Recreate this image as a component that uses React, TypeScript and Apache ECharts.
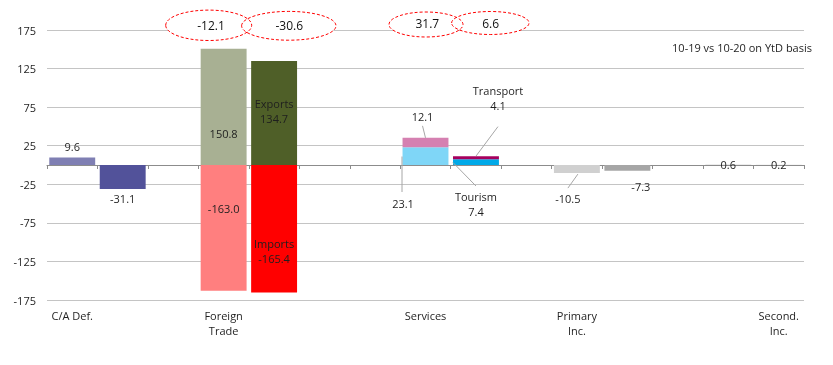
import React, { useEffect, useRef } from "react";
import * as echarts from "echarts";

// ---- data ----
const categories = [
  "C/A Def.", "", "", "Foreign\nTrade", "", "", "", "Services", "", "",
  "Primary\nInc.", "", "", "", "Second.\nInc.",
];
const baseValues: (number | null)[] = [
  9.6, -31.1, null, 150.8, 134.7, null, null, 23.1, 7.4, null, -10.5, -7.3, null, 0.6, 0.2,
];
const topValues: (number | null)[] = [
  null, null, null, -163.0, -165.4, null, null, 12.1, 4.1, null, null, null, null, null, null,
];
const baseNames = ["", "", "", "", "Exports", "", "", "", "Tourism", "", "", "", "", "", ""];
const topNames = ["", "", "", "", "Imports", "", "", "", "Transport", "", "", "", "", "", ""];
const bubbleLabels = ["-12.1", "-30.6", "31.7", "6.6"];
const noteText = "10-19 vs 10-20 on YtD basis";
const yMin = -175;
const yMax = 175;
const yInterval = 50;

// ---- styles ----
const baseColors: (string | null)[] = [
  "#7F7FB3", "#52529A", null, "#A8B093", "#4F5F28", null, null, "#7FD6F7", "#00A9E8", null,
  "#D0D0D0", "#A6A6A6", null, "#D9D9D9", "#D9D9D9",
];
const topColors: (string | null)[] = [
  null, null, null, "#FF7F7F", "#FF0000", null, null, "#D580B1", "#A6005E", null,
  null, null, null, null, null,
];
const FONT = "'Open Sans', sans-serif";
const TXT = "#1F1F1F";

const baseLabelPos: Record<number, any> = {
  0: { position: "top", distance: 4 },
  1: { position: "bottom", distance: 2 },
  3: { position: "insideBottom", distance: 24 },
  4: { position: "insideTop", distance: 35 },
  7: { position: "bottom", distance: 31, offset: [-22.5, 0] },
  8: { position: "bottom", distance: 23.5 },
  10: { position: "bottom", distance: 17.5, offset: [-9, 0] },
  11: { position: "bottom", distance: 8, offset: [13.5, 0] },
  13: { position: "inside" },
  14: { position: "inside" },
};
const topLabelPos: Record<number, any> = {
  3: { position: "insideTop", distance: 36 },
  4: { position: "insideTop", distance: 71 },
  7: { position: "top", distance: 13.5, offset: [-3, 0] },
  8: { position: "top", distance: 43.5, offset: [22, 0] },
};

// leader lines: anchor [category, value], start/end pixel offsets from anchor
const leaders: { anchor: [number, number]; from: [number, number]; to: [number, number] }[] = [
  { anchor: [7, 35.2], from: [0, 0], to: [-3, -12] },
  { anchor: [7, 0], from: [-23.5, -8.5], to: [-23.5, 27] },
  { anchor: [8, 11.5], from: [0, 0], to: [22, -29.5] },
  { anchor: [8, 0], from: [-23, -2.5], to: [0, 21] },
  { anchor: [10, -10.5], from: [1, 1], to: [-9, 15] },
];

const bubbles = [
  { cx: 208.7, cy: 25.3, rx: 43, ry: 15.2 },
  { cx: 288.8, cy: 25.8, rx: 47.2, ry: 14.4 },
  { cx: 426, cy: 24.5, rx: 37, ry: 12.5 },
  { cx: 490.3, cy: 23, rx: 38.7, ry: 11.5 },
];
const bubbleText = [
  [211, 25],
  [289.3, 25],
  [427.3, 23.5],
  [490.7, 23.5],
];

function makeData(values: (number | null)[], colors: (string | null)[], names: string[], pos: Record<number, any>) {
  return values.map((v, i) => {
    if (v == null) return "-";
    const p = pos[i] || { position: "top" };
    const prefix = names[i] ? names[i] + "\n" : "";
    return {
      value: v,
      itemStyle: { color: colors[i] },
      label: {
        show: true,
        ...p,
        formatter: () => prefix + v.toFixed(1),
      },
    };
  });
}

export default function App() {
  const ref = useRef<HTMLDivElement>(null);
  useEffect(() => {
    if (!ref.current) return;
    const chart = echarts.init(ref.current, undefined, { renderer: "svg" });
    const labelCommon = {
      color: TXT,
      fontFamily: FONT,
      fontSize: 11,
      lineHeight: 15,
    };
    chart.setOption({
      animation: false,
      textStyle: { fontFamily: FONT },
      grid: { left: 47, right: 29, top: 30, bottom: 65, containLabel: false },
      xAxis: [
        {
          type: "category",
          data: categories,
          boundaryGap: true,
          axisLine: { show: true, onZero: true, lineStyle: { color: "#8C8C8C", width: 1 } },
          axisTick: { show: true, interval: 0, length: 4, lineStyle: { color: "#8C8C8C" } },
          axisLabel: { show: false },
          splitLine: { show: false },
        },
        {
          type: "category",
          data: categories,
          position: "bottom",
          boundaryGap: true,
          axisLine: { show: false, onZero: false },
          axisTick: { show: false },
          splitLine: { show: false },
          axisLabel: {
            show: true,
            interval: 0,
            margin: 8,
            color: TXT,
            fontFamily: FONT,
            fontSize: 11,
            lineHeight: 15,
          },
        },
      ],
      yAxis: {
        type: "value",
        min: yMin,
        max: yMax,
        interval: yInterval,
        axisLine: { show: false },
        axisTick: { show: false },
        axisLabel: { color: TXT, fontFamily: FONT, fontSize: 11, margin: 11 },
        splitLine: { show: true, lineStyle: { color: "#C4C4C4", width: 1 } },
      },
      series: [
        {
          type: "bar",
          name: "base",
          stack: "a",
          xAxisIndex: 0,
          barWidth: "91%",
          label: labelCommon,
          data: makeData(baseValues, baseColors, baseNames, baseLabelPos),
        },
        {
          type: "bar",
          name: "top",
          stack: "a",
          xAxisIndex: 0,
          barWidth: "91%",
          label: labelCommon,
          data: makeData(topValues, topColors, topNames, topLabelPos),
        },
      ],
    });

    const lineEls = leaders.map((l) => {
      const p = chart.convertToPixel({ xAxisIndex: 0, yAxisIndex: 0 }, l.anchor) as number[];
      return {
        type: "line",
        z: 20,
        silent: true,
        shape: {
          x1: p[0] + l.from[0],
          y1: p[1] + l.from[1],
          x2: p[0] + l.to[0],
          y2: p[1] + l.to[1],
        },
        style: { stroke: "#A6A6A6", lineWidth: 1 },
      };
    });
    const fills = bubbles.map((b) => ({
      type: "ellipse",
      z: 10,
      silent: true,
      shape: { cx: b.cx, cy: b.cy, rx: b.rx, ry: b.ry },
      style: { fill: "#FFFFFF", stroke: null },
    }));
    const strokes = bubbles.map((b) => ({
      type: "ellipse",
      z: 11,
      silent: true,
      shape: { cx: b.cx, cy: b.cy, rx: b.rx, ry: b.ry },
      style: { fill: null, stroke: "#FF0000", lineWidth: 1, lineDash: [3, 2] },
    }));
    const texts = bubbleLabels.map((t, i) => ({
      type: "text",
      z: 12,
      silent: true,
      x: bubbleText[i][0],
      y: bubbleText[i][1],
      style: {
        text: t,
        fill: "#111111",
        font: `12px ${FONT}`,
        align: "center",
        verticalAlign: "middle",
      },
    }));
    const note = {
      type: "text",
      z: 12,
      silent: true,
      x: 812,
      y: 47.5,
      style: {
        text: noteText,
        fill: TXT,
        font: `11px ${FONT}`,
        align: "right",
        verticalAlign: "middle",
      },
    };
    chart.setOption({ graphic: [...fills, ...strokes, ...texts, note, ...lineEls] });

    return () => chart.dispose();
  }, []);
  return (
    <div
      ref={ref}
      style={{ position: "fixed", left: 0, top: 0, width: 833, height: 365 }}
    />
  );
}
